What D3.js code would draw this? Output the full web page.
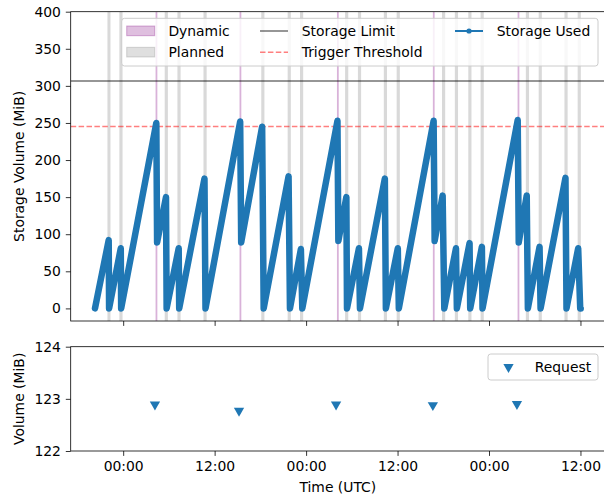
<!DOCTYPE html>
<html>
<head>
<meta charset="utf-8">
<script src="https://cdn.jsdelivr.net/npm/d3@7"></script>
<style>
  body { margin: 0; background: #fff; }
  text { font-family: "DejaVu Sans", sans-serif; }
</style>
</head>
<body>
<div id="chart"></div>
<script>
// storage used (UTC)
const storageTimes = [
  "2024-04-30 20:18", "2024-04-30 22:06", "2024-04-30 22:09", "2024-04-30 23:41", "2024-04-30 23:44",
  "2024-05-01 04:21", "2024-05-01 04:27", "2024-05-01 05:37", "2024-05-01 05:42", "2024-05-01 07:17",
  "2024-05-01 07:21", "2024-05-01 10:40", "2024-05-01 10:48", "2024-05-01 15:21", "2024-05-01 15:29",
  "2024-05-01 18:14", "2024-05-01 18:26", "2024-05-01 21:42", "2024-05-01 21:53", "2024-05-01 23:19",
  "2024-05-01 23:30", "2024-05-02 04:07", "2024-05-02 04:14", "2024-05-02 05:17", "2024-05-02 05:22",
  "2024-05-02 06:56", "2024-05-02 07:04", "2024-05-02 10:20", "2024-05-02 10:28", "2024-05-02 12:02",
  "2024-05-02 12:10", "2024-05-02 16:44", "2024-05-02 16:52", "2024-05-02 17:55", "2024-05-02 18:08",
  "2024-05-02 19:40", "2024-05-02 19:47", "2024-05-02 21:27", "2024-05-02 21:32", "2024-05-02 23:04",
  "2024-05-02 23:09", "2024-05-03 03:46", "2024-05-03 03:54", "2024-05-03 04:57", "2024-05-03 05:06",
  "2024-05-03 06:38", "2024-05-03 06:46", "2024-05-03 10:02", "2024-05-03 10:10", "2024-05-03 11:42",
  "2024-05-03 11:58", "2024-05-03 12:02"
];
const storageValues = [
  0, 92, 0, 81, 0,
  250, 89, 150, 0, 81,
  0, 175, 0, 252, 89,
  245, 0, 178, 0, 80,
  0, 253, 91, 150, 0,
  81, 0, 175, 0, 81,
  0, 253, 91, 152, 0,
  81, 0, 88, 0, 83,
  0, 254, 89, 152, 0,
  83, 0, 176, 0, 81,
  0, 0
];

// planned cleanup windows
const plannedStart = [
  "2024-04-30 21:56", "2024-04-30 23:30", "2024-05-01 05:27", "2024-05-01 07:07", "2024-05-01 10:32",
  "2024-05-01 18:07", "2024-05-01 21:35", "2024-05-01 23:12", "2024-05-02 05:07", "2024-05-02 06:48",
  "2024-05-02 10:12", "2024-05-02 11:53", "2024-05-02 17:50", "2024-05-02 19:31", "2024-05-02 21:17",
  "2024-05-02 22:54", "2024-05-03 04:50", "2024-05-03 06:31", "2024-05-03 09:54", "2024-05-03 11:38"
];
const plannedEnd = [
  "2024-04-30 22:20", "2024-04-30 23:55", "2024-05-01 05:52", "2024-05-01 07:32", "2024-05-01 10:57",
  "2024-05-01 18:32", "2024-05-01 22:00", "2024-05-01 23:37", "2024-05-02 05:32", "2024-05-02 07:13",
  "2024-05-02 10:37", "2024-05-02 12:18", "2024-05-02 18:15", "2024-05-02 19:56", "2024-05-02 21:42",
  "2024-05-02 23:19", "2024-05-03 05:15", "2024-05-03 06:56", "2024-05-03 10:19", "2024-05-03 12:03"
];

// dynamic cleanup windows
const dynamicStart = ["2024-05-01 04:15", "2024-05-01 15:16", "2024-05-02 04:03", "2024-05-02 16:38", "2024-05-03 03:45"];
const dynamicEnd = ["2024-05-01 04:29", "2024-05-01 15:30", "2024-05-02 04:17", "2024-05-02 16:52", "2024-05-03 03:59"];

// requests (bottom panel)
const requestTimes = ["2024-05-01 04:10", "2024-05-01 15:12", "2024-05-02 03:56", "2024-05-02 16:38", "2024-05-03 03:40"];
const requestValues = [122.89, 122.77, 122.89, 122.88, 122.9];

const storageLimit = 306.5;
const triggerThreshold = 245.2;
const volumeTicks = [0, 50, 100, 150, 200, 250, 300, 350, 400];
const requestTicks = [122, 123, 124];

const WIDTH = 604;
const HEIGHT = 499;
const LEFT = 70.7;
const RIGHT = 605;
const TOP = { y0: 11.7, y1: 321 };
const BOT = { y0: 346.7, y1: 451 };
const FONT = 13.9;
const TICK = 4.9;
const BLUE = "#1f77b4";

const parse = d3.utcParse("%Y-%m-%d %H:%M");

const storage = storageTimes.map((t, i) => ({ t: parse(t), v: storageValues[i] }));
const planned = plannedStart.map((s, i) => ({ s: parse(s), e: parse(plannedEnd[i]) }));
const dynamic = dynamicStart.map((s, i) => ({ s: parse(s), e: parse(dynamicEnd[i]) }));
const requests = requestTimes.map((t, i) => ({ t: parse(t), v: requestValues[i] }));

const svg = d3.select("#chart").append("svg")
  .attr("width", WIDTH)
  .attr("height", HEIGHT);

// matplotlib-like 5% margin on the time axis
const ext = d3.extent(storage, (d) => d.t);
const pad = (ext[1] - ext[0]) * 0.05;
const x = d3.scaleUtc()
  .domain([new Date(+ext[0] - pad), new Date(+ext[1] + pad)])
  .range([LEFT, RIGHT]);
const y = d3.scaleLinear().domain([-17, 400]).range([TOP.y1, TOP.y0]);
const y2 = d3.scaleLinear().domain([122, 124]).range([BOT.y1, BOT.y0]);

svg.append("defs").append("clipPath").attr("id", "clip-top")
  .append("rect")
  .attr("x", LEFT).attr("y", TOP.y0)
  .attr("width", RIGHT - LEFT).attr("height", TOP.y1 - TOP.y0);

const topPanel = svg.append("g").attr("clip-path", "url(#clip-top)");

// SPANS
topPanel.selectAll("rect.planned")
  .data(planned)
  .enter()
  .append("rect")
  .attr("class", "planned")
  .attr("x", (d) => x(d.s))
  .attr("width", (d) => x(d.e) - x(d.s))
  .attr("y", TOP.y0)
  .attr("height", TOP.y1 - TOP.y0)
  .style("fill", "gray")
  .style("fill-opacity", 0.3);

topPanel.selectAll("rect.dynamic")
  .data(dynamic)
  .enter()
  .append("rect")
  .attr("class", "dynamic")
  .attr("x", (d) => x(d.s))
  .attr("width", (d) => x(d.e) - x(d.s))
  .attr("y", TOP.y0)
  .attr("height", TOP.y1 - TOP.y0)
  .style("fill", "purple")
  .style("fill-opacity", 0.3);

// LIMIT + THRESHOLD
topPanel.append("line")
  .attr("x1", LEFT).attr("x2", RIGHT)
  .attr("y1", y(storageLimit)).attr("y2", y(storageLimit))
  .style("stroke", "black")
  .style("stroke-opacity", 0.55)
  .style("stroke-width", 1.5);

topPanel.append("line")
  .attr("x1", LEFT).attr("x2", RIGHT)
  .attr("y1", y(triggerThreshold)).attr("y2", y(triggerThreshold))
  .style("stroke", "red")
  .style("stroke-opacity", 0.5)
  .style("stroke-width", 1.5)
  .style("stroke-dasharray", "5.5,2.4");

// STORAGE LINE
const line = d3.line().x((d) => x(d.t)).y((d) => y(d.v));
svg.append("path")
  .datum(storage)
  .attr("d", line)
  .style("fill", "none")
  .style("stroke", BLUE)
  .style("stroke-width", 6.5)
  .style("stroke-linejoin", "round")
  .style("stroke-linecap", "round");

// AXES
function styleAxis(g) {
  g.select(".domain").remove();
  g.selectAll("line").style("stroke", "#000").style("stroke-width", 0.8);
  g.selectAll("text")
    .style("font-size", FONT + "px")
    .style("font-family", "DejaVu Sans, sans-serif")
    .style("fill", "#000");
}

const timeTicks = d3.utcHour.every(12);

svg.append("g")
  .attr("transform", `translate(${LEFT}, 0)`)
  .call(d3.axisLeft(y).tickValues(volumeTicks).tickSize(TICK).tickPadding(TICK))
  .call(styleAxis);

svg.append("g")
  .attr("transform", `translate(0, ${TOP.y1})`)
  .call(d3.axisBottom(x).ticks(timeTicks).tickFormat("").tickSize(TICK))
  .call(styleAxis);

svg.append("g")
  .attr("transform", `translate(${LEFT}, 0)`)
  .call(d3.axisLeft(y2).tickValues(requestTicks).tickFormat(d3.format("d")).tickSize(TICK).tickPadding(TICK))
  .call(styleAxis);

svg.append("g")
  .attr("transform", `translate(0, ${BOT.y1})`)
  .call(d3.axisBottom(x).ticks(timeTicks).tickFormat(d3.utcFormat("%H:%M")).tickSize(TICK).tickPadding(TICK))
  .call(styleAxis);

// frames
[TOP, BOT].forEach((p) => {
  svg.append("rect")
    .attr("x", LEFT).attr("y", p.y0)
    .attr("width", RIGHT - LEFT).attr("height", p.y1 - p.y0)
    .style("fill", "none")
    .style("stroke", "#000")
    .style("stroke-width", 0.8);
});

// REQUEST MARKERS
const tri = d3.symbol().type(d3.symbolTriangle).size(46);
svg.selectAll("path.request")
  .data(requests)
  .enter()
  .append("path")
  .attr("class", "request")
  .attr("d", tri)
  .attr("transform", (d) => `translate(${x(d.t)}, ${y2(d.v)}) rotate(180)`)
  .style("fill", BLUE);

// AXIS LABELS
svg.append("text")
  .attr("transform", `translate(19, ${(TOP.y0 + TOP.y1) / 2}) rotate(-90)`)
  .attr("text-anchor", "middle")
  .attr("dy", "0.35em")
  .style("font-size", FONT + "px")
  .text("Storage Volume (MiB)");

svg.append("text")
  .attr("transform", `translate(19, ${(BOT.y0 + BOT.y1) / 2}) rotate(-90)`)
  .attr("text-anchor", "middle")
  .attr("dy", "0.35em")
  .style("font-size", FONT + "px")
  .text("Volume (MiB)");

svg.append("text")
  .attr("x", (LEFT + RIGHT) / 2)
  .attr("y", 487.5)
  .attr("text-anchor", "middle")
  .attr("dy", "0.35em")
  .style("font-size", FONT + "px")
  .text("Time (UTC)");

// LEGENDS
const legend = svg.append("g");
legend.append("rect")
  .attr("x", 121.7).attr("y", 18.3)
  .attr("width", 476.3).attr("height", 47.7)
  .attr("rx", 2.8)
  .style("fill", "white").style("fill-opacity", 0.8)
  .style("stroke", "#cccccc").style("stroke-width", 1);

const legendItems = [
  { label: "Dynamic", kind: "patch", color: "purple", hx: 126.7, ty: 31 },
  { label: "Planned", kind: "patch", color: "gray", hx: 126.7, ty: 52.3 },
  { label: "Storage Limit", kind: "limit", hx: 260, ty: 31 },
  { label: "Trigger Threshold", kind: "threshold", hx: 260, ty: 52.3 },
  { label: "Storage Used", kind: "used", hx: 455, ty: 31 },
];

legendItems.forEach((d) => {
  if (d.kind === "patch") {
    legend.append("rect")
      .attr("x", d.hx).attr("y", d.ty - 5)
      .attr("width", 28).attr("height", 9.7)
      .style("fill", d.color).style("fill-opacity", 0.25)
      .style("stroke", d.color).style("stroke-opacity", 0.3);
  } else {
    legend.append("line")
      .attr("x1", d.hx).attr("x2", d.hx + 28)
      .attr("y1", d.ty).attr("y2", d.ty)
      .style("stroke", d.kind === "limit" ? "black" : d.kind === "threshold" ? "red" : BLUE)
      .style("stroke-opacity", d.kind === "limit" ? 0.55 : d.kind === "threshold" ? 0.5 : 1)
      .style("stroke-width", d.kind === "used" ? 2 : 1.5)
      .style("stroke-dasharray", d.kind === "threshold" ? "5.5,2.4" : null);
    if (d.kind === "used") {
      legend.append("circle")
        .attr("cx", d.hx + 14).attr("cy", d.ty).attr("r", 2.6)
        .style("fill", BLUE);
    }
  }
  legend.append("text")
    .attr("x", d.hx + 41.7)
    .attr("y", d.ty)
    .attr("dy", "0.35em")
    .style("font-size", FONT + "px")
    .text(d.label);
});

const legend2 = svg.append("g");
legend2.append("rect")
  .attr("x", 488).attr("y", 354)
  .attr("width", 110).attr("height", 26)
  .attr("rx", 2.8)
  .style("fill", "white").style("fill-opacity", 0.8)
  .style("stroke", "#cccccc").style("stroke-width", 1);
legend2.append("path")
  .attr("d", tri)
  .attr("transform", "translate(508.5, 367) rotate(180)")
  .style("fill", BLUE);
legend2.append("text")
  .attr("x", 534.7).attr("y", 367)
  .attr("dy", "0.35em")
  .style("font-size", FONT + "px")
  .text("Request");
</script>
</body>
</html>
